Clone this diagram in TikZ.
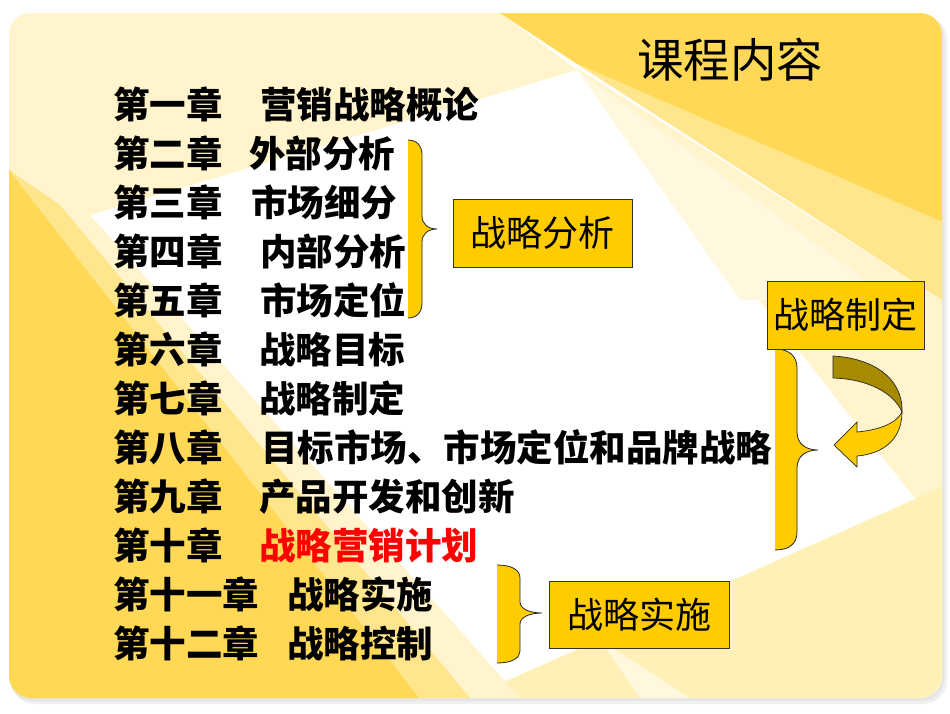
\documentclass[tikz,border=0pt]{standalone}
\usepackage{fontspec}
\newfontfamily\cjk{Noto Sans CJK SC}
\definecolor{gold}{RGB}{255,204,0}
\definecolor{olivedark}{RGB}{166,138,0}
\definecolor{bgdark}{RGB}{255,217,85}
\definecolor{bgmed}{RGB}{255,230,140}
\definecolor{bgcream}{RGB}{255,244,204}
\definecolor{bglight}{RGB}{255,240,184}
\definecolor{bgpale}{RGB}{255,248,222}
\tikzset{
  chap/.style={anchor=base west, inner sep=0pt, font=\cjk\bfseries\fontsize{36.5}{40}\selectfont},
  box/.style={draw=black!80, line width=1pt, fill=gold, inner sep=0pt, font=\cjk\fontsize{36}{40}\selectfont},
  bracefill/.style={fill=gold, draw=none},
  braceline/.style={draw=black!85, line width=0.8pt},
}
\begin{document}
\begin{tikzpicture}[x=1pt,y=-1pt]
\useasboundingbox (0,0) rectangle (950,713);
\fill[white] (0,0) rectangle (950,713);
% shadow
\fill[black!6, rounded corners=24pt] (11,16) rectangle (947,704);
\fill[black!10, rounded corners=22pt] (10,15) rectangle (944,701);
% background panel
\begin{scope}
\clip[rounded corners=22pt] (9,13) rectangle (942,698);
\fill[white] (9,13) rectangle (942,698);
\fill[bgcream] (9,13) -- (500,13) -- (577,70) -- (90,215) -- (9,245) -- cycle;
\fill[bgdark] (500,13) -- (942,13) -- (942,222) -- (577,64) -- cycle;
\fill[bgmed] (577,64) -- (942,222) -- (942,300) -- cycle;
\fill[bgcream] (577,68) -- (942,300) -- (942,533) -- cycle;
\fill[bgpale] (577,70) -- (893,300) -- (860,300) -- (740,300) -- cycle;
\fill[bglight] (942,487) -- (942,698) -- (468,698) -- cycle;
\fill[bgpale] (600,640) -- (690,698) -- (640,698) -- cycle;
\fill[bgcream] (90,215) -- (520,698) -- (419,698) -- (9,170) -- cycle;
\fill[bgmed] (9,170) -- (60,205) -- (470,698) -- (419,698) -- cycle;
\fill[bgdark] (9,170) -- (419,698) -- (9,698) -- cycle;
\end{scope}
% title
\node[anchor=base west, inner sep=0pt, font=\cjk\fontsize{46.5}{50}\selectfont] (title) at (637,77.4) {课程内容};
% chapter list
\node[chap] (c1) at (113,118.7) {第一章};
\node[chap] (t1) at (260,118.7) {营销战略概论};
\node[chap] (c2) at (113,167.7) {第二章};
\node[chap] (t2) at (249,167.7) {外部分析};
\node[chap] (c3) at (113,216.7) {第三章};
\node[chap] (t3) at (251,216.7) {市场细分};
\node[chap] (c4) at (113,265.7) {第四章};
\node[chap] (t4) at (260,265.7) {内部分析};
\node[chap] (c5) at (113,314.7) {第五章};
\node[chap] (t5) at (260,314.7) {市场定位};
\node[chap] (c6) at (113,363.7) {第六章};
\node[chap] (t6) at (259,363.7) {战略目标};
\node[chap] (c7) at (113,412.7) {第七章};
\node[chap] (t7) at (259,412.7) {战略制定};
\node[chap] (c8) at (113,461.7) {第八章};
\node[chap] (t8) at (261,461.7) {目标市场、市场定位和品牌战略};
\node[chap] (c9) at (113,510.7) {第九章};
\node[chap] (t9) at (259,510.7) {产品开发和创新};
\node[chap] (c10) at (113,559.7) {第十章};
\node[chap, text=red] (t10) at (259,559.7) {战略营销计划};
\node[chap] (c11) at (113,608.7) {第十一章};
\node[chap] (t11) at (287,608.7) {战略实施};
\node[chap] (c12) at (113,657.7) {第十二章};
\node[chap] (t12) at (287,657.7) {战略控制};
% brace 1 (analysis)
\fill[bracefill] (408,140) .. controls (417,140) and (422,146) .. (422,155) -- (422,216) .. controls (422,224) and (428,229) .. (437,229) .. controls (428,229) and (422,234) .. (422,242) -- (422,303) .. controls (422,312) and (417,318) .. (408,318) -- cycle;
\draw[braceline] (408,140) .. controls (417,140) and (422,146) .. (422,155) -- (422,216) .. controls (422,224) and (428,229) .. (437,229) .. controls (428,229) and (422,234) .. (422,242) -- (422,303) .. controls (422,312) and (417,318) .. (408,318);
% brace 2 (formulation)
\fill[bracefill] (775,349) .. controls (789,349) and (797,356) .. (797,368) -- (797,432) .. controls (797,444) and (806,450) .. (818,450) .. controls (806,450) and (797,456) .. (797,468) -- (797,532) .. controls (797,544) and (789,550) .. (775,550) -- cycle;
\draw[braceline] (775,349) .. controls (789,349) and (797,356) .. (797,368) -- (797,432) .. controls (797,444) and (806,450) .. (818,450) .. controls (806,450) and (797,456) .. (797,468) -- (797,532) .. controls (797,544) and (789,550) .. (775,550);
% brace 3 (implementation)
\fill[bracefill] (497,565) .. controls (512,565) and (520,570) .. (520,578) -- (520,602) .. controls (520,609) and (530,613) .. (542,613) .. controls (530,613) and (520,617) .. (520,624) -- (520,651) .. controls (520,658) and (512,663) .. (497,663) -- cycle;
\draw[braceline] (497,565) .. controls (512,565) and (520,570) .. (520,578) -- (520,602) .. controls (520,609) and (530,613) .. (542,613) .. controls (530,613) and (520,617) .. (520,624) -- (520,651) .. controls (520,658) and (512,663) .. (497,663);
% boxes
\node[box, minimum width=179pt, minimum height=68pt] (ba) at (542.5,233) {战略分析};
\node[box, minimum width=157pt, minimum height=68pt] (bf) at (845.5,315) {战略制定};
\node[box, minimum width=180pt, minimum height=67pt] (bi) at (639,614.5) {战略实施};
% curved arrow
\filldraw[fill=olivedark, draw=black!85, line width=0.7pt] (833,356) .. controls (870,358) and (903,376) .. (902,412) .. controls (894,393) and (868,379) .. (833,378) -- cycle;
\filldraw[fill=gold, draw=black!85, line width=0.7pt] (902,412) .. controls (902,440) and (882,454) .. (857,456) -- (857,467) -- (834,445) -- (857,422) -- (857,432) .. controls (878,430) and (896,424) .. (902,412) -- cycle;
\end{tikzpicture}
\end{document}
